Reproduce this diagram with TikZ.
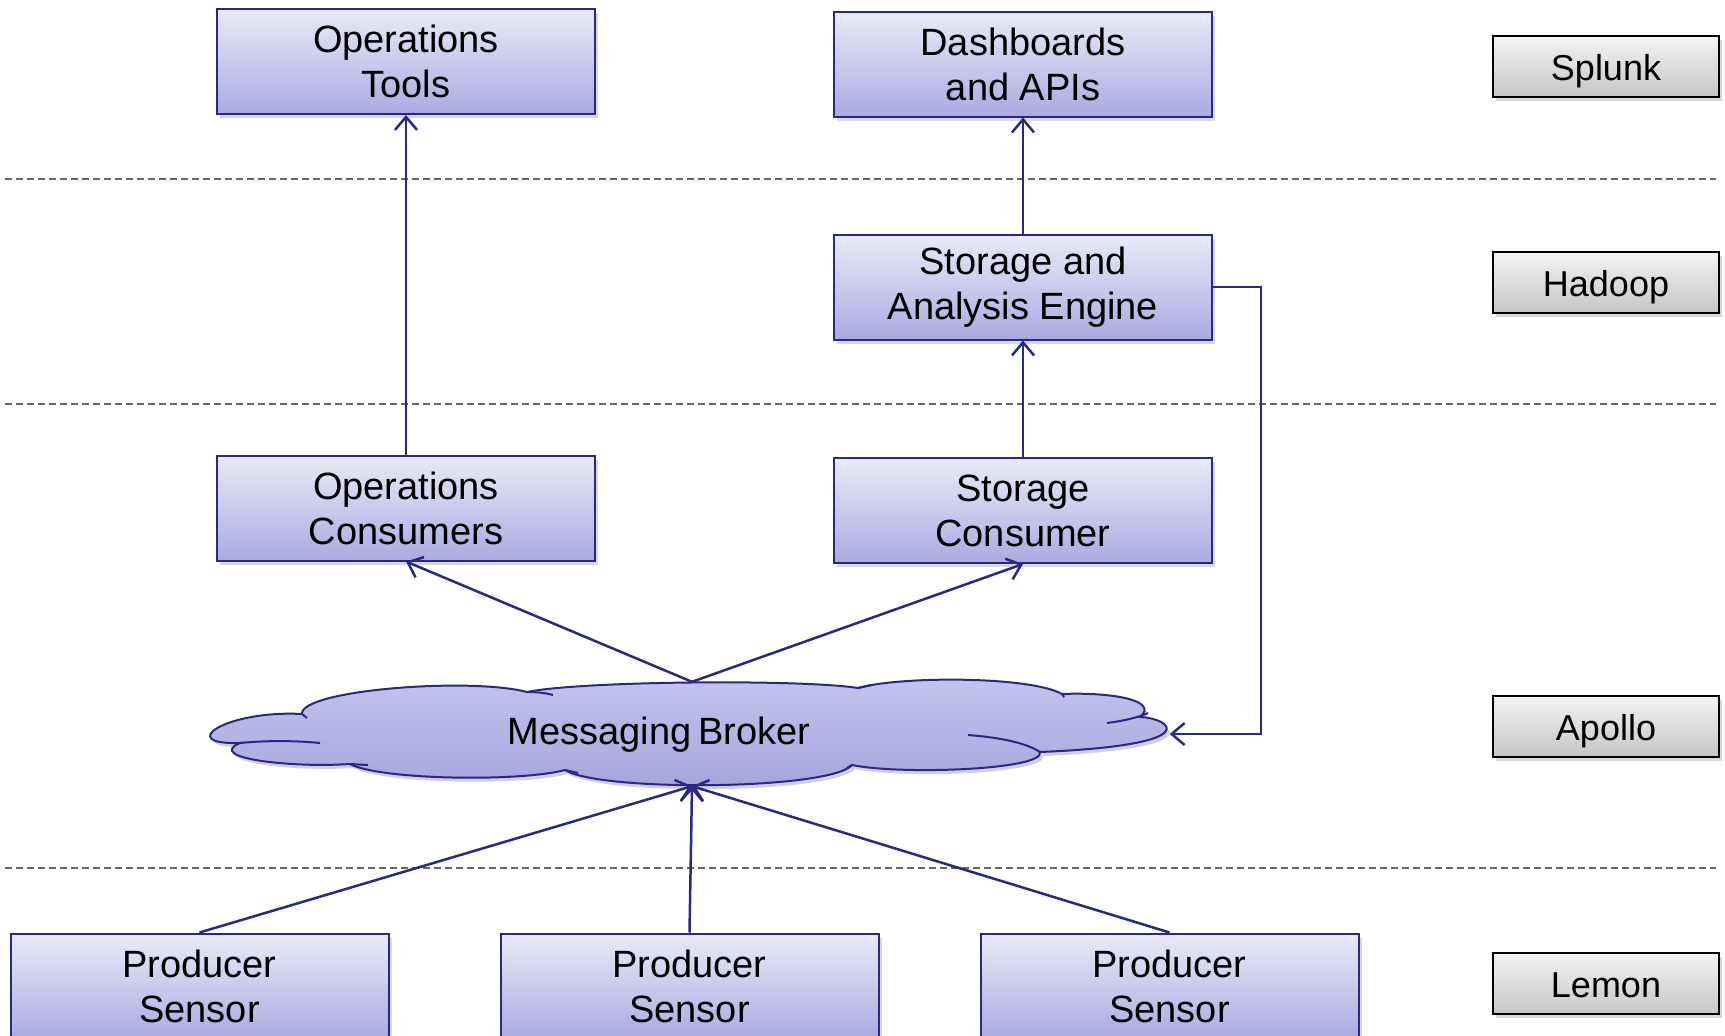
\documentclass[tikz,border=0pt]{standalone}
\usepackage{fontspec}
\setmainfont{Liberation Sans}
\usetikzlibrary{arrows.meta,shadows}
\definecolor{edge}{RGB}{40,40,135}
\definecolor{boxtop}{RGB}{234,234,248}
\definecolor{boxbot}{RGB}{170,170,226}
\definecolor{cloudtop}{RGB}{196,196,236}
\definecolor{cloudbot}{RGB}{164,164,222}
\definecolor{labtop}{RGB}{243,243,243}
\definecolor{labbot}{RGB}{198,198,198}
\tikzset{
 compbox/.style={draw=edge, line width=2pt, top color=boxtop, bottom color=boxbot,
   minimum width=378pt, minimum height=105pt, align=center, inner sep=0pt,
   font=\fontsize{38}{45}\selectfont,
   execute at begin node={\vspace*{4pt}},
   drop shadow={shadow xshift=3pt, shadow yshift=-4pt, opacity=0.3}},
 labbox/.style={draw=black, line width=2pt, top color=labtop, bottom color=labbot,
   minimum width=226pt, minimum height=61pt, inner sep=0pt,
   text height=28pt, text depth=0pt,
   font=\fontsize{36}{43}\selectfont,
   drop shadow={shadow xshift=3pt, shadow yshift=-4pt, opacity=0.3}},
 conn/.style={draw=edge, line width=2.5pt, -{Straight Barb[length=13pt,width=22pt]}},
 cloudline/.style={draw=edge, line width=2pt},
 sepline/.style={draw=black!60, line width=1.5pt, dash pattern=on 7pt off 4pt}
}
\newcommand\brokercloud{(240,743)
  .. controls (175,745) and (225,710) .. (302,714)
  .. controls (300,690) and (470,677) .. (527,692)
  .. controls (580,681) and (800,679) .. (858,688)
  .. controls (900,676) and (1030,676) .. (1062,694)
  .. controls (1110,692) and (1160,700) .. (1140,717)
  .. controls (1170,718) and (1210,745) .. (1040,752)
  .. controls (1045,770) and (900,775) .. (852,765)
  .. controls (830,790) and (600,792) .. (565,770)
  .. controls (520,782) and (380,780) .. (350,764)
  .. controls (290,768) and (205,758) .. (240,743) -- cycle}
\begin{document}
\begin{tikzpicture}[x=1pt,y=-1pt]
\useasboundingbox (0,0) rectangle (1725,1036);
\clip (0,0) rectangle (1725,1036);
\fill[white] (0,0) rectangle (1725,1036);
% separators
\draw[sepline] (5,179) -- (1716,179);
\draw[sepline] (5,404) -- (1716,404);
\draw[sepline] (5,868) -- (1716,868);
% component boxes
\node[compbox] (optools) at (406,61.5) {Operations\\Tools};
\node[compbox] (dash) at (1023,64) {Dashboards\\and APIs};
\node[compbox] (engine) at (1023,287) {Storage and\\Analysis Engine};
\node[compbox] (opcons) at (406,508) {Operations\\Consumers};
\node[compbox] (stcons) at (1023,510.5) {Storage\\Consumer};
\node[compbox] (p1) at (199.5,986) {Producer\\Sensor};
\node[compbox] (p2) at (689.5,986) {Producer\\Sensor};
\node[compbox] (p3) at (1169.5,986) {Producer\\Sensor};
% cloud
\fill[black, opacity=0.18, xshift=3pt, yshift=-4pt] \brokercloud;
\path[cloudline, top color=cloudtop, bottom color=cloudbot] \brokercloud;
\draw[cloudline] (240,743) .. controls (270,740) and (300,741) .. (320,743);
\draw[cloudline] (302,714) -- (307,718);
\draw[cloudline] (527,692) .. controls (537,692) and (546,693) .. (553,695);
\draw[cloudline] (858,688) -- (872,685);
\draw[cloudline] (1062,694) -- (1064,697);
\draw[cloudline] (1107,723) .. controls (1122,721) and (1137,718) .. (1148,713);
\draw[cloudline] (968,735) .. controls (995,737) and (1025,742) .. (1040,752);
\draw[cloudline] (852,765) -- (847,768);
\draw[cloudline] (565,770) -- (578,773);
\draw[cloudline] (350,764) -- (368,765);
\node[minimum width=955pt, minimum height=104pt, inner sep=0pt] (broker) at (692,734) {};
\node[font=\fontsize{38}{45}\selectfont, inner sep=0pt] (brokerlabel) at (659,735) {Messaging\hspace{7pt}Broker};
% layer labels
\node[labbox] (splunk) at (1606,66.5) {Splunk};
\node[labbox] (hadoop) at (1606,282.5) {Hadoop};
\node[labbox] (apollo) at (1606,726.5) {Apollo};
\node[labbox] (lemon) at (1606,983.5) {Lemon};
% connectors
\draw[conn] (opcons.north) -- (optools.south);
\draw[conn] (stcons.north) -- (engine.south);
\draw[conn] (engine.north) -- (dash.south);
\draw[conn] (broker.north) -- (opcons.south);
\draw[conn] (broker.north) -- (stcons.south);
\draw[conn] (p1.north) -- (broker.south);
\draw[conn] (p2.north) -- (broker.south);
\draw[conn] (p3.north) -- (broker.south);
\draw[conn] (engine.east) -- ++(48,0) |- (broker.east);
\end{tikzpicture}
\end{document}
